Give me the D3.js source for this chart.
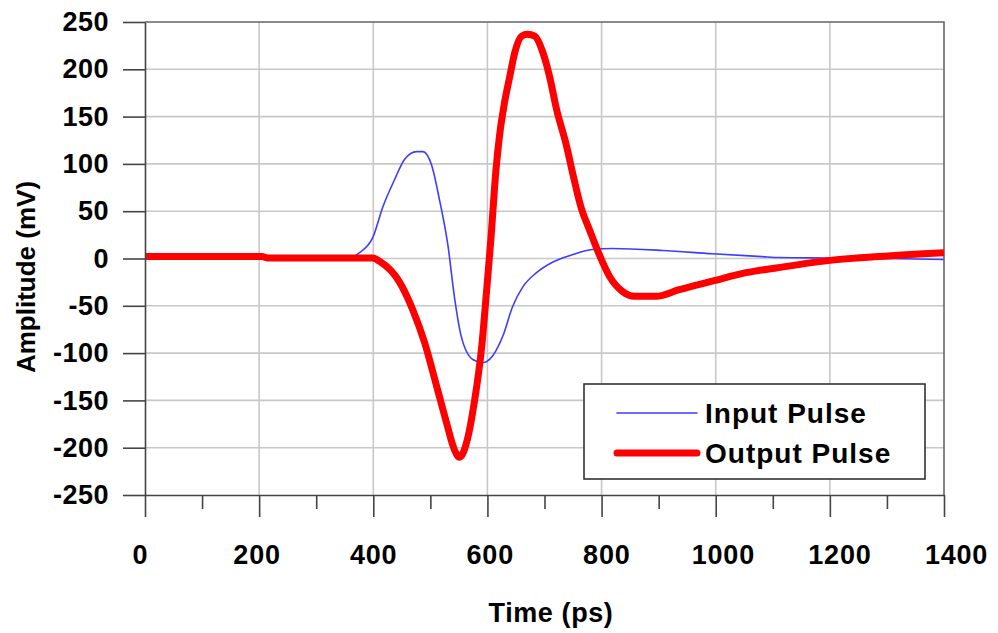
<!DOCTYPE html>
<html>
<head>
<meta charset="utf-8">
<script src="https://cdn.jsdelivr.net/npm/d3@7"></script>
<style>
  body { margin: 0; background: #fff; }
  svg { display: block; font-family: "Liberation Sans", Arial, sans-serif; font-weight: bold; }
</style>
</head>
<body>
<svg id="chart"></svg>
<script>
// input pulse (blue, thin)
const inputTime = [0, 200, 360, 373, 399, 417, 437, 455, 476, 487, 502, 516, 531, 542, 554, 575, 592, 609, 627, 644, 662, 686, 714, 749, 784, 819, 907, 994, 1081, 1111, 1193, 1300, 1400];
const inputAmp = [0, 0, 0, 5, 22, 55, 83, 105, 113, 113, 99, 62, 13, -40, -82, -107, -110, -103, -82, -51, -30, -15, -4, 4, 9.5, 10.5, 8.5, 5, 2, 1, 0.5, 0, -1];

// output pulse (red, thick)
const outputTime = [0, 205, 215, 399, 411, 446, 469, 490, 511, 528, 542, 551, 565, 577, 590, 598, 606, 615, 621, 630, 639, 648, 660, 670, 683, 697, 709, 721, 739, 749, 765, 779, 796, 814, 837, 857, 896, 936, 994, 1053, 1106, 1200, 1286, 1400];
const outputAmp = [2, 2, 0.5, 0.5, -3, -25, -54, -89, -135, -173, -202, -210, -191, -152, -93, -38, 20, 94, 129, 165, 192, 218, 235, 237, 235, 218, 192, 158, 118, 91, 52, 30, 4, -19, -35, -40, -40, -33, -24, -15, -10, -2, 2, 6];

const xTicks = [0, 200, 400, 600, 800, 1000, 1200, 1400];
const xMinorTicks = [100, 300, 500, 700, 900, 1100, 1300];
const yTicks = [-250, -200, -150, -100, -50, 0, 50, 100, 150, 200, 250];
const legendNames = ['Input Pulse', 'Output Pulse'];

const width = 998;
const height = 633;
const font = '"Liberation Sans", Arial, sans-serif';

const svg = d3.select('#chart').attr('width', width).attr('height', height);

const x = d3.scaleLinear().domain([0, 1400]).range([145, 944]);
const y = d3.scaleLinear().domain([-250, 250]).range([495, 22]);
// tick labels in the original sit a little wider apart than the ticks
const xLabel = d3.scaleLinear().domain([0, 1400]).range([140, 956]);

// grid
svg.append('g')
  .selectAll('line')
  .data(yTicks.filter(d => d > -250 && d < 250))
  .join('line')
  .attr('x1', x(0)).attr('x2', x(1400))
  .attr('y1', d => y(d)).attr('y2', d => y(d))
  .attr('stroke', '#c8c8c8').attr('stroke-width', 1.6);

svg.append('g')
  .selectAll('line')
  .data(xTicks.filter(d => d > 0 && d < 1400))
  .join('line')
  .attr('x1', d => x(d)).attr('x2', d => x(d))
  .attr('y1', y(250)).attr('y2', y(-250))
  .attr('stroke', '#c8c8c8').attr('stroke-width', 1.6);

// frame top / right
svg.append('path')
  .attr('d', `M${x(0)},${y(250)}H${x(1400)}V${y(-250)}`)
  .attr('fill', 'none').attr('stroke', '#666').attr('stroke-width', 1.6);

// series
const line = d3.line()
  .x(d => x(d[0]))
  .y(d => y(d[1]))
  .curve(d3.curveMonotoneX);

svg.append('path')
  .datum(d3.zip(inputTime, inputAmp))
  .attr('fill', 'none')
  .attr('stroke', '#3d3dff')
  .attr('stroke-width', 1.6)
  .attr('d', line);

svg.append('path')
  .datum(d3.zip(outputTime, outputAmp))
  .attr('fill', 'none')
  .attr('stroke', '#ff0000')
  .attr('stroke-width', 7)
  .attr('stroke-linejoin', 'round')
  .attr('d', line);

// y axis
const yAxis = svg.append('g')
  .attr('transform', `translate(${x(0)},0)`)
  .call(d3.axisLeft(y).tickValues(yTicks).tickSize(22).tickPadding(14).tickSizeOuter(0)
    .tickFormat(d => String(d)));
yAxis.select('.domain').attr('stroke', '#444').attr('stroke-width', 1.6);
yAxis.selectAll('.tick line').attr('stroke', '#444').attr('stroke-width', 1.6);
yAxis.selectAll('.tick text')
  .attr('font-size', 27).attr('font-weight', 'bold').attr('font-family', font)
  .attr('letter-spacing', 0.5)
  .attr('fill', '#000');

// x axis
const xAxis = svg.append('g')
  .attr('transform', `translate(0,${y(-250)})`)
  .call(d3.axisBottom(x).tickValues(xTicks).tickSize(22).tickFormat('').tickSizeOuter(0));
xAxis.select('.domain').attr('stroke', '#444').attr('stroke-width', 1.6);
xAxis.selectAll('.tick line').attr('stroke', '#444').attr('stroke-width', 1.6);

const xMinor = svg.append('g')
  .attr('transform', `translate(0,${y(-250)})`)
  .call(d3.axisBottom(x).tickValues(xMinorTicks).tickSize(14).tickFormat(''));
xMinor.select('.domain').remove();
xMinor.selectAll('.tick line').attr('stroke', '#444').attr('stroke-width', 1.6);

const xLabels = svg.append('g')
  .attr('transform', `translate(0,${y(-250) + 50})`)
  .call(d3.axisBottom(xLabel).tickValues(xTicks).tickSize(0).tickPadding(0)
    .tickFormat(d => String(d)));
xLabels.select('.domain').remove();
xLabels.selectAll('.tick text')
  .attr('font-size', 27).attr('font-weight', 'bold').attr('font-family', font)
  .attr('letter-spacing', 0.8)
  .attr('fill', '#000');

// axis titles
svg.append('text')
  .attr('x', 551).attr('y', 613)
  .attr('text-anchor', 'middle').attr('dominant-baseline', 'central')
  .attr('font-size', 27).attr('letter-spacing', 0.6)
  .text('Time (ps)');

svg.append('text')
  .attr('transform', 'translate(26,277) rotate(-90)')
  .attr('text-anchor', 'middle').attr('dominant-baseline', 'central')
  .attr('font-size', 26)
  .text('Amplitude (mV)');

// legend
const legend = svg.append('g').attr('transform', 'translate(584,384)');
legend.append('rect')
  .attr('width', 341).attr('height', 95)
  .attr('fill', '#fff').attr('stroke', '#333').attr('stroke-width', 1.6);

const legendStyle = [
  { color: '#3d3dff', w: 1.6 },
  { color: '#ff0000', w: 7 }
];
legendNames.forEach((name, i) => {
  const ly = 29 + i * 40;
  legend.append('line')
    .attr('x1', 33).attr('x2', 113)
    .attr('y1', ly).attr('y2', ly)
    .attr('stroke', legendStyle[i].color)
    .attr('stroke-width', legendStyle[i].w)
    .attr('stroke-linecap', 'round');
  legend.append('text')
    .attr('x', 121).attr('y', ly)
    .attr('dominant-baseline', 'central')
    .attr('font-size', 28).attr('letter-spacing', 1)
    .text(name);
});
</script>
</body>
</html>
